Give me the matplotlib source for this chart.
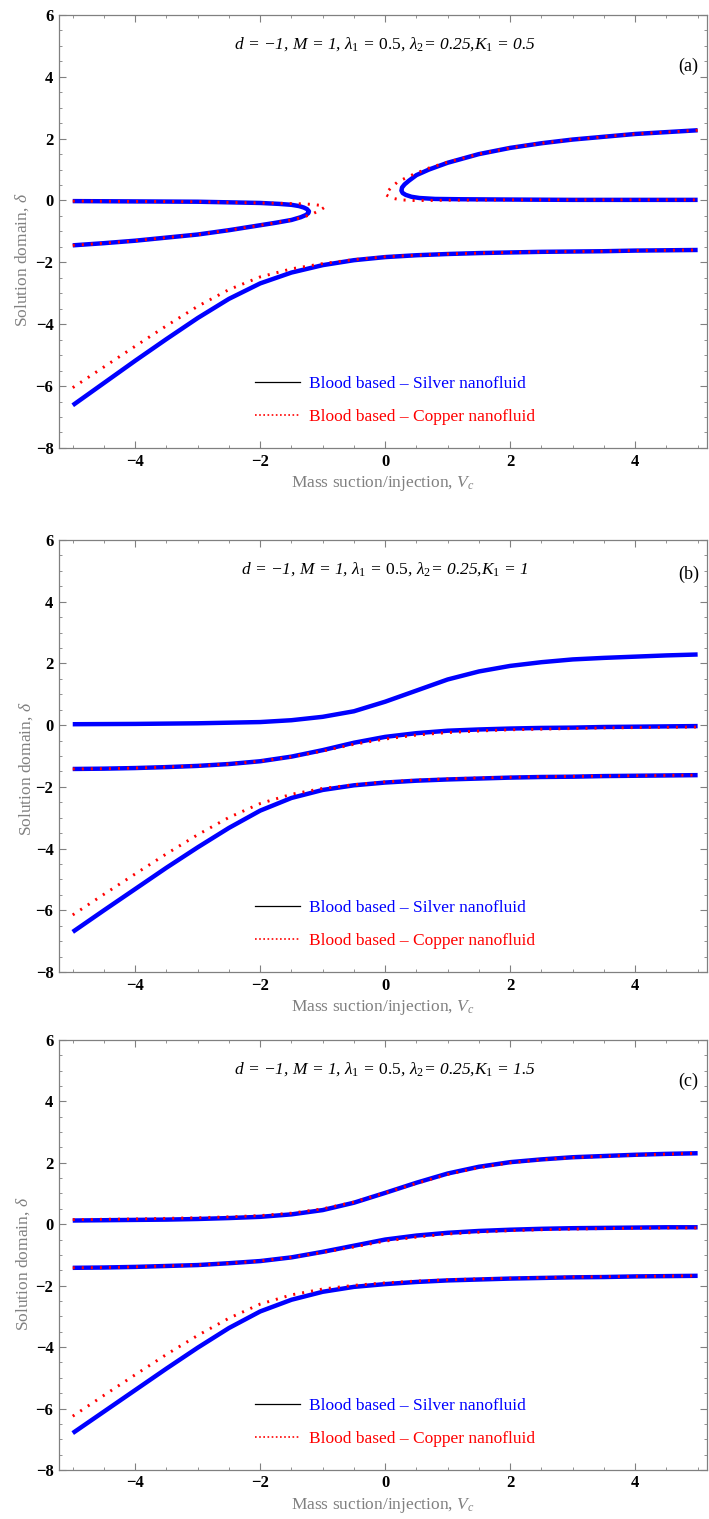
import matplotlib
matplotlib.use("Agg")
import matplotlib.pyplot as plt
from matplotlib.lines import Line2D
from matplotlib.ticker import MultipleLocator

plt.rcParams['font.family'] = ['Liberation Serif', 'DejaVu Serif']
plt.rcParams['mathtext.fontset'] = 'custom'
plt.rcParams['mathtext.rm'] = 'Liberation Serif'
plt.rcParams['mathtext.it'] = 'Liberation Serif:italic'
plt.rcParams['mathtext.bf'] = 'Liberation Serif:bold'

# ---- panel (a): K1 = 0.5 (two folded branches + lower branch)
a_left_x_ag = [-5, -4, -3, -2.5, -2, -1.7, -1.5, -1.38, -1.3, -1.25, -1.22, -1.23, -1.27, -1.35, -1.5, -1.75, -2, -2.5, -3, -3.5, -4, -4.5, -5]
a_left_y_ag = [-0.02, -0.03, -0.04, -0.06, -0.08, -0.11, -0.14, -0.18, -0.23, -0.28, -0.35, -0.41, -0.47, -0.54, -0.63, -0.72, -0.8, -0.96, -1.1, -1.2, -1.3, -1.38, -1.45]
a_left_x_cu = [-5, -4, -3, -2.5, -2, -1.7, -1.5, -1.3, -1.15, -1.03, -0.97, -1.03, -1.15, -1.3, -1.5, -1.75, -2, -2.5, -3, -3.5, -4, -4.5, -5]
a_left_y_cu = [-0.02, -0.03, -0.04, -0.06, -0.08, -0.09, -0.1, -0.11, -0.13, -0.16, -0.22, -0.3, -0.42, -0.53, -0.63, -0.72, -0.8, -0.96, -1.1, -1.2, -1.3, -1.38, -1.45]

a_right_x_ag = [5, 4, 3, 2.5, 2, 1.5, 1.0, 0.7, 0.5, 0.38, 0.31, 0.27, 0.26, 0.28, 0.33, 0.42, 0.55, 0.8, 1.2, 2, 3, 4, 5]
a_right_y_ag = [2.27, 2.15, 1.97, 1.85, 1.7, 1.5, 1.22, 1.0, 0.82, 0.64, 0.52, 0.42, 0.32, 0.24, 0.18, 0.12, 0.08, 0.05, 0.04, 0.03, 0.02, 0.02, 0.02]
a_right_x_cu = [5, 4, 3, 2.5, 2, 1.5, 1.0, 0.7, 0.4, 0.2, 0.1, 0.0, 0.1, 0.25, 0.45, 0.7, 1.0, 2, 3, 4, 5]
a_right_y_cu = [2.27, 2.15, 1.97, 1.85, 1.7, 1.5, 1.24, 1.05, 0.8, 0.6, 0.43, 0.2, 0.08, 0.02, 0.0, 0.0, 0.01, 0.02, 0.02, 0.02, 0.02]

vc = [-5, -4.5, -4, -3.5, -3, -2.5, -2, -1.5, -1, -0.5, 0, 0.5, 1, 1.5, 2, 2.5, 3, 3.5, 4, 4.5, 5]

a_low_ag = [-6.62, -5.9, -5.18, -4.48, -3.8, -3.18, -2.68, -2.33, -2.09, -1.93, -1.83, -1.77, -1.73, -1.7, -1.68, -1.66, -1.65, -1.64, -1.62, -1.61, -1.6]
a_low_cu = [-6.05, -5.38, -4.71, -4.05, -3.42, -2.88, -2.47, -2.21, -2.04, -1.91, -1.82, -1.77, -1.73, -1.7, -1.68, -1.66, -1.65, -1.64, -1.62, -1.61, -1.6]

# ---- panels (b) and (c): three smooth branches
b_up_ag = [0.03, 0.035, 0.04, 0.05, 0.06, 0.08, 0.1, 0.16, 0.27, 0.45, 0.76, 1.12, 1.48, 1.74, 1.92, 2.04, 2.13, 2.18, 2.22, 2.26, 2.29]
b_mid_ag = [-1.42, -1.41, -1.39, -1.36, -1.32, -1.26, -1.17, -1.02, -0.81, -0.57, -0.38, -0.26, -0.18, -0.14, -0.11, -0.09, -0.08, -0.06, -0.05, -0.04, -0.03]
b_mid_cu = [-1.42, -1.41, -1.39, -1.36, -1.32, -1.26, -1.17, -1.03, -0.84, -0.62, -0.45, -0.32, -0.24, -0.19, -0.15, -0.13, -0.11, -0.09, -0.08, -0.07, -0.06]
b_low_ag = [-6.7, -6.0, -5.31, -4.62, -3.96, -3.33, -2.77, -2.36, -2.1, -1.95, -1.86, -1.8, -1.76, -1.73, -1.7, -1.68, -1.67, -1.65, -1.64, -1.63, -1.62]
b_low_cu = [-6.15, -5.48, -4.82, -4.17, -3.55, -2.99, -2.54, -2.24, -2.05, -1.93, -1.84, -1.78, -1.74, -1.71, -1.69, -1.67, -1.66, -1.65, -1.64, -1.63, -1.62]

c_up_ag = [0.12, 0.13, 0.14, 0.15, 0.17, 0.2, 0.24, 0.32, 0.46, 0.7, 1.02, 1.35, 1.65, 1.87, 2.02, 2.11, 2.18, 2.22, 2.26, 2.29, 2.31]
c_up_cu = [0.15, 0.16, 0.17, 0.19, 0.21, 0.24, 0.28, 0.36, 0.5, 0.72, 1.02, 1.33, 1.62, 1.84, 2.0, 2.1, 2.17, 2.21, 2.25, 2.28, 2.31]
c_mid_ag = [-1.42, -1.41, -1.39, -1.36, -1.33, -1.27, -1.2, -1.08, -0.9, -0.7, -0.5, -0.37, -0.28, -0.22, -0.18, -0.15, -0.13, -0.12, -0.11, -0.1, -0.1]
c_mid_cu = [-1.42, -1.41, -1.39, -1.36, -1.33, -1.27, -1.2, -1.08, -0.92, -0.74, -0.55, -0.42, -0.32, -0.26, -0.21, -0.18, -0.16, -0.14, -0.13, -0.12, -0.12]
c_low_ag = [-6.8, -6.1, -5.4, -4.7, -4.02, -3.38, -2.84, -2.46, -2.2, -2.04, -1.95, -1.88, -1.83, -1.8, -1.77, -1.75, -1.73, -1.72, -1.7, -1.69, -1.68]
c_low_cu = [-6.25, -5.57, -4.9, -4.24, -3.62, -3.06, -2.6, -2.3, -2.11, -1.99, -1.91, -1.85, -1.81, -1.78, -1.76, -1.74, -1.72, -1.71, -1.7, -1.69, -1.68]

titles = [
    r"$d$ = −1, $M$ = 1, $\lambda_1$ = $\mathit{0.5}$, $\lambda_2$= 0.25,$K_{\mathit{1}}$ = 0.5",
    r"$d$ = −1, $M$ = 1, $\lambda_{\mathit{1}}$ = $\mathit{0.5}$, $\lambda_{\mathit{2}}$= 0.25,$K_{\mathit{1}}$ = 1",
    r"$d$ = −1, $M$ = 1, $\lambda_{\mathit{1}}$ = $\mathit{0.5}$, $\lambda_{\mathit{2}}$= 0.25,$K_{\mathit{1}}$ = 1.5",
]
tags = ["(a)", "(b)", "(c)"]
legend_labels = ["Blood based – Silver nanofluid", "Blood based – Copper nanofluid"]

BLUE = '#0000ff'
RED = '#ff0000'
GRAY = '#808080'


def silver(ax, x, y):
    ax.plot(x, y, color=BLUE, lw=3.2, solid_capstyle='butt', solid_joinstyle='round', zorder=2)


def copper(ax, x, y):
    ax.plot(x, y, color=RED, lw=2.1, linestyle=(0, (0.7, 2.4)), zorder=3)


def style_axes(ax, title, tag, tag_y, ylab_pos):
    ax.set_xlim(-5.22, 5.15)
    ax.set_ylim(-8, 6)
    ax.xaxis.set_major_locator(MultipleLocator(2))
    ax.xaxis.set_minor_locator(MultipleLocator(0.5))
    ax.yaxis.set_major_locator(MultipleLocator(2))
    ax.yaxis.set_minor_locator(MultipleLocator(0.5))
    ax.tick_params(which='both', direction='in', top=True, right=True, color=GRAY)
    ax.tick_params(which='major', length=5, width=0.8, labelsize=12, pad=4)
    ax.tick_params(which='minor', length=2.5, width=0.6)
    for lab in ax.get_xticklabels() + ax.get_yticklabels():
        lab.set_fontweight('bold')
    for sp in ax.spines.values():
        sp.set_color(GRAY)
        sp.set_linewidth(0.9)
    ax.set_xlabel(r"Mass suction/injection, $V_c$", color=GRAY, fontsize=12.5, va='center')
    ax.xaxis.set_label_coords(0.5, -0.082)
    ax.set_ylabel(r"Solution domain, $\delta$", color=GRAY, fontsize=12.5, va='center')
    ax.yaxis.set_label_coords(*ylab_pos)
    ax.text(0, 5.05, title, ha='center', va='center', fontsize=12.5, style='italic')
    ax.text(4.85, tag_y, tag, ha='center', va='center', fontsize=13)
    handles = [Line2D([], [], color='black', lw=0.9),
               Line2D([], [], color=RED, lw=1.2, linestyle=(0, (1, 1.5)))]
    ax.legend(handles, legend_labels, loc='center left', bbox_to_anchor=(0.302, 0.11),
              frameon=False, fontsize=12.5, labelcolor=[BLUE, RED], handlelength=2.6,
              handletextpad=0.55, labelspacing=0.95, borderpad=0, borderaxespad=0)


fig = plt.figure(figsize=(7.09, 15.19), dpi=100)
ax_a = fig.add_axes([0.0832, 0.7051, 0.9140, 0.2851])
ax_b = fig.add_axes([0.0832, 0.3601, 0.9140, 0.2844])
ax_c = fig.add_axes([0.0832, 0.0323, 0.9140, 0.2831])

# (a)
silver(ax_a, a_left_x_ag, a_left_y_ag)
silver(ax_a, a_right_x_ag, a_right_y_ag)
silver(ax_a, vc, a_low_ag)
copper(ax_a, a_left_x_cu, a_left_y_cu)
copper(ax_a, a_right_x_cu, a_right_y_cu)
copper(ax_a, vc, a_low_cu)
style_axes(ax_a, titles[0], tags[0], 4.35, (-0.057, 0.434))

# (b)
silver(ax_b, vc, b_up_ag)
silver(ax_b, vc, b_mid_ag)
silver(ax_b, vc, b_low_ag)
copper(ax_b, vc, b_mid_cu)
copper(ax_b, vc, b_low_cu)
style_axes(ax_b, titles[1], tags[1], 4.9, (-0.05, 0.47))

# (c)
silver(ax_c, vc, c_up_ag)
silver(ax_c, vc, c_mid_ag)
silver(ax_c, vc, c_low_ag)
copper(ax_c, vc, c_up_cu)
copper(ax_c, vc, c_mid_cu)
copper(ax_c, vc, c_low_cu)
style_axes(ax_c, titles[2], tags[2], 4.65, (-0.055, 0.48))

fig.savefig("out.png", dpi=100)
